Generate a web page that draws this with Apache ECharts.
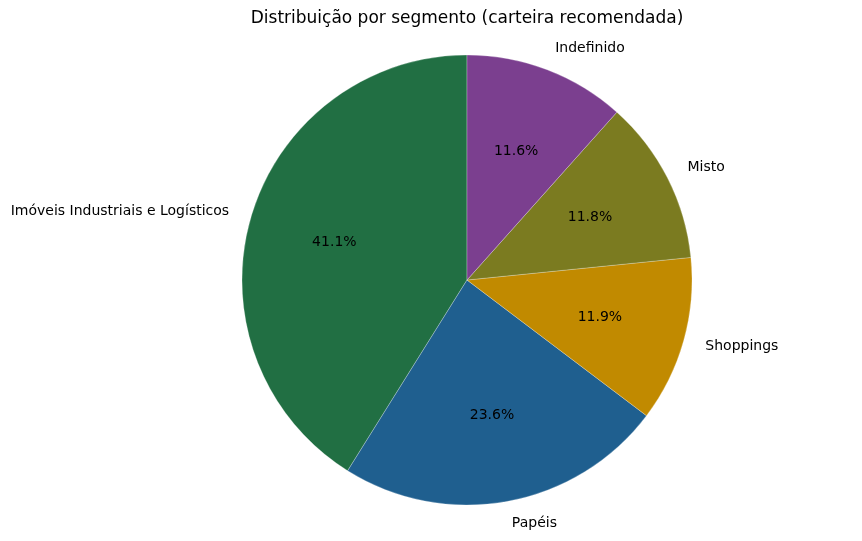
<!DOCTYPE html>
<html>
<head>
<meta charset="utf-8">
<script src="https://cdn.jsdelivr.net/npm/echarts@6/dist/echarts.min.js"></script>
<style>
  html, body { margin: 0; padding: 0; background: #fff; }
  #chart { width: 862px; height: 541px; }
</style>
</head>
<body>
<div id="chart"></div>
<script>
const segments = ['Imóveis Industriais e Logísticos', 'Papéis', 'Shoppings', 'Misto', 'Indefinido'];
const shares = [41.1, 23.6, 11.9, 11.8, 11.6];
const colors = ['#216f43', '#1f5f8f', '#c18a00', '#7b7b20', '#7b3f8f'];

const chart = echarts.init(document.getElementById('chart'));
const R = 225;
const center = [467, 280];
const font = 'DejaVu Sans';

const sliceData = segments.map((name, i) => ({
    value: shares[i],
    name: name,
    itemStyle: { color: colors[i] }
}));

const option = {
    animation: false,
    title: {
        text: 'Distribuição por segmento (carteira recomendada)',
        left: 462,
        textAlign: 'center',
        top: 5,
        textStyle: { fontFamily: font, fontSize: 17, fontWeight: 'normal', color: '#000' }
    },
    series: [
        {
            // slices with outside names
            type: 'pie',
            center: center,
            radius: [0, R],
            startAngle: 90,
            clockwise: false,
            avoidLabelOverlap: false,
            silent: true,
            itemStyle: { borderColor: 'rgba(255,255,255,0.5)', borderWidth: 0.5 },
            label: {
                show: true,
                position: 'outside',
                formatter: '{b}',
                fontFamily: font,
                fontSize: 14,
                color: '#000',
                distanceToLabelLine: 0
            },
            labelLine: { show: false, length: R * 0.1, length2: 0 },
            data: sliceData
        },
        {
            // transparent ring to place percentages at 0.6R
            type: 'pie',
            center: center,
            radius: [R * 0.2, R],
            startAngle: 90,
            clockwise: false,
            silent: true,
            itemStyle: { color: 'rgba(0,0,0,0)' },
            label: {
                show: true,
                position: 'inside',
                formatter: p => p.value.toFixed(1) + '%',
                fontFamily: font,
                fontSize: 14,
                color: '#000'
            },
            labelLine: { show: false },
            data: segments.map((name, i) => ({ value: shares[i], name: name }))
        }
    ]
};

chart.setOption(option);

window.addEventListener('resize', function() {
    chart.resize();
});
</script>
</body>
</html>
